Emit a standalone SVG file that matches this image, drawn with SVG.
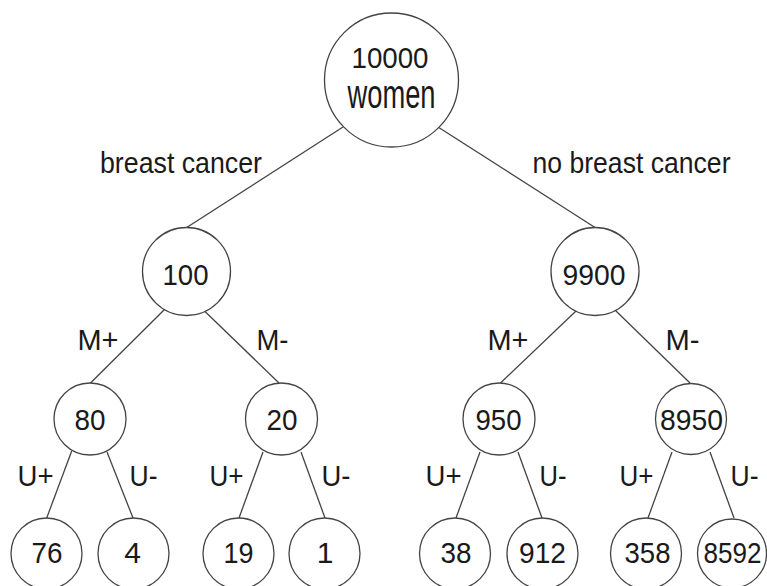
<svg xmlns="http://www.w3.org/2000/svg" width="767" height="586" viewBox="0 0 767 586">
<style>
.n circle{fill:#fff;stroke:#444;stroke-width:1.3}
text{font-family:"Liberation Sans",Arial,sans-serif;fill:#1a1a1a;text-anchor:middle}
.num{font-size:30px}
.lbl{font-size:30px}
#edges line{stroke:#444;stroke-width:1.3}
</style>
<rect width="767" height="586" fill="#fff"/>
<g id="edges">
<line x1="343" y1="127" x2="186.7" y2="227.5"/>
<line x1="438" y1="127" x2="595" y2="227.5"/>
<line x1="164.5" y1="309.5" x2="90.5" y2="383"/>
<line x1="205" y1="311.5" x2="279" y2="383"/>
<line x1="576" y1="311" x2="500.5" y2="383"/>
<line x1="615.5" y1="310.5" x2="690" y2="383"/>
<line x1="71.7" y1="451" x2="46.7" y2="518"/>
<line x1="107" y1="452" x2="133" y2="518"/>
<line x1="263" y1="452" x2="239" y2="518"/>
<line x1="301" y1="452" x2="325" y2="518"/>
<line x1="480" y1="452" x2="456" y2="518"/>
<line x1="518" y1="452" x2="542" y2="518"/>
<line x1="672" y1="452" x2="648" y2="518"/>
<line x1="710" y1="452" x2="734" y2="518"/>
</g>
<g id="labels">
<text class="lbl" x="181" y="173" textLength="162" lengthAdjust="spacingAndGlyphs">breast cancer</text>
<text class="lbl" x="631.5" y="173" textLength="198" lengthAdjust="spacingAndGlyphs">no breast cancer</text>
<text class="lbl" x="98" y="350" textLength="41" lengthAdjust="spacingAndGlyphs">M+</text>
<text class="lbl" x="272.5" y="350" textLength="32" lengthAdjust="spacingAndGlyphs">M-</text>
<text class="lbl" x="508" y="350" textLength="41" lengthAdjust="spacingAndGlyphs">M+</text>
<text class="lbl" x="682.5" y="350" textLength="34" lengthAdjust="spacingAndGlyphs">M-</text>
<text class="lbl" x="35.5" y="486" textLength="36" lengthAdjust="spacingAndGlyphs">U+</text>
<text class="lbl" x="143.5" y="486" textLength="28" lengthAdjust="spacingAndGlyphs">U-</text>
<text class="lbl" x="226.5" y="486" textLength="34" lengthAdjust="spacingAndGlyphs">U+</text>
<text class="lbl" x="336" y="486" textLength="29" lengthAdjust="spacingAndGlyphs">U-</text>
<text class="lbl" x="443.5" y="486" textLength="36" lengthAdjust="spacingAndGlyphs">U+</text>
<text class="lbl" x="553" y="486" textLength="27" lengthAdjust="spacingAndGlyphs">U-</text>
<text class="lbl" x="636.5" y="486" textLength="34" lengthAdjust="spacingAndGlyphs">U+</text>
<text class="lbl" x="744.5" y="486" textLength="28" lengthAdjust="spacingAndGlyphs">U-</text>
</g>
<g id="n-root" class="n"><circle cx="391.5" cy="80" r="67"/>
<text class="num" x="390" y="68" textLength="77" lengthAdjust="spacingAndGlyphs">10000</text>
<text x="391.5" y="108" style="font-size:40px" textLength="88" lengthAdjust="spacingAndGlyphs">women</text></g>
<g id="n-100" class="n"><circle cx="186.5" cy="271.5" r="44"/><text class="num" x="185.5" y="285" textLength="46" lengthAdjust="spacingAndGlyphs">100</text></g>
<g id="n-9900" class="n"><circle cx="595" cy="271.5" r="44"/><text class="num" x="594" y="285" textLength="63" lengthAdjust="spacingAndGlyphs">9900</text></g>
<g id="n-80" class="n"><circle cx="90" cy="419" r="36"/><text class="num" x="90" y="430" textLength="31" lengthAdjust="spacingAndGlyphs">80</text></g>
<g id="n-20" class="n"><circle cx="281.5" cy="419" r="36"/><text class="num" x="282" y="430" textLength="31" lengthAdjust="spacingAndGlyphs">20</text></g>
<g id="n-950" class="n"><circle cx="499" cy="419" r="36"/><text class="num" x="498.5" y="430" textLength="46" lengthAdjust="spacingAndGlyphs">950</text></g>
<g id="n-8950" class="n"><circle cx="691" cy="419" r="35.5"/><text class="num" x="691.5" y="430" textLength="63" lengthAdjust="spacingAndGlyphs">8950</text></g>
<g id="n-76" class="n"><circle cx="46.5" cy="553.5" r="35.5"/><text class="num" x="47" y="563" textLength="31" lengthAdjust="spacingAndGlyphs">76</text></g>
<g id="n-4" class="n"><circle cx="133.5" cy="553.5" r="35.5"/><text class="num" x="132.5" y="563">4</text></g>
<g id="n-19" class="n"><circle cx="238.5" cy="553.5" r="35.5"/><text class="num" x="238.5" y="563" textLength="30" lengthAdjust="spacingAndGlyphs">19</text></g>
<g id="n-1" class="n"><circle cx="324.5" cy="553.5" r="35.5"/><text class="num" x="325" y="563">1</text></g>
<g id="n-38" class="n"><circle cx="455" cy="553.5" r="35.5"/><text class="num" x="456" y="563" textLength="31" lengthAdjust="spacingAndGlyphs">38</text></g>
<g id="n-912" class="n"><circle cx="542.5" cy="553.5" r="35.5"/><text class="num" x="542.5" y="563" textLength="47" lengthAdjust="spacingAndGlyphs">912</text></g>
<g id="n-358" class="n"><circle cx="646" cy="553.5" r="35.5"/><text class="num" x="647.5" y="563" textLength="46" lengthAdjust="spacingAndGlyphs">358</text></g>
<g id="n-8592" class="n"><circle cx="732" cy="553.5" r="34.5"/><text class="num" x="732.5" y="563" textLength="58" lengthAdjust="spacingAndGlyphs">8592</text></g>
</svg>
